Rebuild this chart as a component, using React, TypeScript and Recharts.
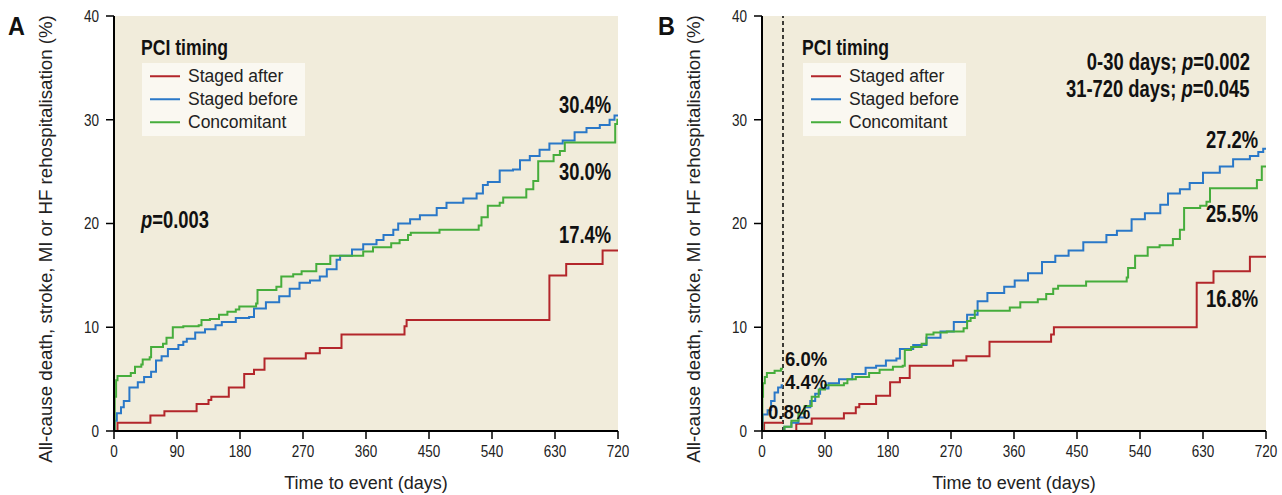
import React from 'react';
import { LineChart, Line, XAxis, YAxis, CartesianGrid, ReferenceLine } from 'recharts';

// axis ticks
const xTicks = [0, 90, 180, 270, 360, 450, 540, 630, 720];
const yTicks = [0, 10, 20, 30, 40];

// panel A, [day, cumulative %]
const aStagedAfter: [number, number][] = [
  [0, 0], [5, 0.8], [52, 1.5], [72, 1.9], [118, 2.6], [135, 3.0], [139, 3.3], [164, 4.2],
  [186, 5.5], [200, 5.9], [215, 7.0], [274, 7.5], [294, 8.0], [325, 9.3], [415, 10.1],
  [418, 10.7], [622, 15.0], [646, 16.1], [698, 17.4], [720, 17.4],
];
const aStagedBefore: [number, number][] = [
  [0, 0], [1, 1.0], [4, 1.7], [10, 2.3], [14, 2.9], [22, 4.2], [34, 4.7], [43, 5.2], [53, 5.7],
  [60, 6.8], [68, 7.2], [77, 7.9], [92, 8.3], [99, 8.6], [104, 8.9], [116, 9.5], [130, 9.8],
  [145, 10.2], [154, 10.5], [174, 10.9], [193, 11.0], [200, 11.8], [217, 12.4], [236, 13.0],
  [251, 13.7], [265, 14.3], [280, 14.5], [294, 14.9], [304, 15.6], [318, 16.5], [323, 16.9],
  [340, 17.5], [356, 18.0], [375, 18.4], [385, 18.9], [399, 19.4], [406, 20.0], [423, 20.4],
  [437, 20.8], [461, 21.5], [475, 22.0], [499, 22.4], [518, 22.9], [527, 23.7], [534, 24.0],
  [551, 25.1], [570, 25.2], [580, 26.1], [594, 26.5], [608, 27.1], [622, 27.7], [641, 28.0],
  [658, 28.8], [675, 29.2], [694, 29.5], [708, 30.0], [715, 30.4], [720, 30.4],
];
const aConcomitant: [number, number][] = [
  [0, 0], [1, 3.3], [3, 4.9], [5, 5.3], [24, 5.6], [30, 6.2], [39, 6.4], [41, 6.9], [51, 7.1],
  [53, 8.1], [70, 8.4], [75, 9.0], [84, 10.0], [99, 10.1], [121, 10.2], [125, 10.7], [137, 10.8],
  [150, 11.2], [162, 11.5], [174, 11.7], [179, 12.0], [203, 12.3], [205, 13.6], [232, 13.9],
  [239, 14.9], [256, 15.1], [268, 15.4], [289, 16.1], [309, 16.9], [356, 17.3], [370, 17.7],
  [396, 18.1], [408, 18.4], [420, 18.9], [424, 19.1], [465, 19.4], [521, 19.8], [525, 20.6],
  [534, 21.7], [551, 22.0], [556, 22.5], [589, 23.3], [599, 24.1], [606, 26.0], [628, 26.6],
  [637, 27.0], [644, 27.8], [716, 29.6], [719, 30.0], [720, 30.0],
];

// panel B, landmark 0-30 days
const bStagedAfterEarly: [number, number][] = [[0, 0], [3, 0.8], [30, 0.8]];
const bStagedBeforeEarly: [number, number][] = [
  [0, 0], [0.5, 1.0], [1, 1.6], [8, 2.0], [13, 2.9], [18, 3.7], [23, 4.2], [28, 4.4], [30, 4.4],
];
const bConcomitantEarly: [number, number][] = [
  [0, 0], [0.5, 3.3], [1.5, 4.6], [4, 5.2], [7, 5.6], [18, 5.8], [27, 6.0], [30, 6.0],
];

// panel B, landmark 31-720 days
const bStagedAfterLate: [number, number][] = [
  [30, 0], [49, 0.7], [71, 1.2], [117, 1.7], [134, 2.3], [139, 2.6], [163, 3.4], [183, 4.7],
  [197, 5.1], [211, 6.3], [273, 6.8], [292, 7.2], [325, 8.6], [413, 9.3], [417, 10.0],
  [621, 14.3], [645, 15.4], [697, 16.8], [720, 16.8],
];
const bStagedBeforeLate: [number, number][] = [
  [30, 0], [32, 0.4], [42, 0.8], [52, 1.3], [61, 2.3], [69, 2.9], [76, 3.6], [83, 4.1], [95, 4.6],
  [110, 5.0], [129, 5.5], [148, 6.1], [163, 6.3], [177, 6.8], [192, 7.0], [197, 7.9], [216, 8.3],
  [235, 9.0], [255, 9.6], [274, 10.5], [293, 11.2], [308, 12.5], [322, 13.3], [346, 13.9],
  [361, 14.5], [380, 15.2], [400, 16.3], [419, 16.9], [438, 17.4], [459, 18.2], [492, 18.9],
  [507, 19.3], [528, 20.4], [547, 21.0], [569, 21.8], [580, 22.9], [597, 23.3], [611, 23.9],
  [630, 24.9], [654, 25.5], [673, 26.2], [697, 26.5], [709, 26.9], [716, 27.2], [720, 27.2],
];
const bConcomitantLate: [number, number][] = [
  [30, 0], [32, 0.4], [42, 1.0], [52, 1.7], [61, 2.4], [71, 3.3], [81, 4.0], [90, 4.4], [117, 4.6],
  [122, 5.0], [134, 5.2], [153, 5.6], [168, 5.9], [187, 6.2], [201, 6.3], [204, 7.8], [213, 8.1],
  [228, 8.4], [235, 9.3], [245, 9.5], [264, 9.6], [288, 9.9], [293, 10.6], [298, 10.9],
  [304, 11.6], [354, 11.9], [369, 12.4], [394, 12.7], [406, 13.2], [416, 13.7], [423, 14.0],
  [463, 14.4], [521, 14.8], [523, 15.7], [533, 16.9], [551, 17.7], [568, 17.9], [587, 18.5],
  [597, 19.4], [603, 21.5], [626, 21.7], [635, 22.1], [640, 23.4], [707, 24.2], [714, 25.5],
  [720, 25.5],
];

const RED = '#b3262b';
const BLUE = '#2a78c8';
const GREEN = '#46ad3c';
const PLOT_BG = '#f1ecdb';
const SANS = '"Liberation Sans", Arial, sans-serif';
const SQUEEZE = 0.8; // the figure uses a condensed face

const legendItems = [
  { name: 'Staged after', color: RED },
  { name: 'Staged before', color: BLUE },
  { name: 'Concomitant', color: GREEN },
];

const toRows = (pts: [number, number][]) => pts.map(([day, pct]) => ({ day, pct }));

function XTick({ x, y, payload }: any) {
  return (
    <g transform={`translate(${x},${y}) scale(0.82,1)`}>
      <text x={0} y={0} dy="0.71em" textAnchor="middle" fontFamily={SANS} fontSize={16.5} fill="#222">
        {payload.value}
      </text>
    </g>
  );
}

function YTick({ x, y, payload }: any) {
  return (
    <g transform={`translate(${x},${y}) scale(0.82,1)`}>
      <text x={0} y={0} dy="0.355em" textAnchor="end" fontFamily={SANS} fontSize={16.5} fill="#222">
        {payload.value}
      </text>
    </g>
  );
}

function YTitle({ px, py }: { px: number; py: number }) {
  return (
    <text
      x={px}
      y={py}
      transform={`rotate(-90 ${px} ${py})`}
      textAnchor="middle"
      dominantBaseline="central"
      fontFamily={SANS}
      fontSize={18.7}
      fill="#222"
    >
      All-cause death, stroke, MI or HF rehospitalisation (%)
    </text>
  );
}

function Bold({ children, style, squeeze = SQUEEZE }: { children: React.ReactNode; style: React.CSSProperties; squeeze?: number }) {
  const fromRight = style.right !== undefined;
  return (
    <div
      style={{
        position: 'absolute',
        fontFamily: SANS,
        fontWeight: 700,
        fontSize: 23,
        lineHeight: '15px',
        color: '#111',
        whiteSpace: 'nowrap',
        transform: `translateY(-50%) scaleX(${squeeze})`,
        transformOrigin: fromRight ? 'right center' : 'left center',
        ...style,
      }}
    >
      {children}
    </div>
  );
}

function Legend({ left }: { left: number }) {
  return (
    <>
      <Bold style={{ left: left - 1, top: 47, fontSize: 22 }}>PCI timing</Bold>
      <div
        style={{
          position: 'absolute',
          left,
          top: 63,
          width: 163,
          height: 73,
          background: '#faf8f1',
        }}
      >
        {legendItems.map((it, i) => (
          <div
            key={it.name}
            style={{ position: 'absolute', left: 0, top: 13.5 + i * 23, transform: 'translateY(-50%)', display: 'flex', alignItems: 'center' }}
          >
            <div style={{ width: 30, height: 2, background: it.color, marginLeft: 8, marginRight: 8 }} />
            <span style={{ fontFamily: SANS, fontSize: 17.5, color: '#222', lineHeight: 1 }}>{it.name}</span>
          </div>
        ))}
      </div>
    </>
  );
}

type Series = { pts: [number, number][]; color: string };

function Panel({
  yWidth,
  right,
  titleX,
  series,
  landmark,
}: {
  yWidth: number;
  right: number;
  titleX: number;
  series: Series[];
  landmark?: boolean;
}) {
  return (
    <LineChart width={641} height={495} margin={{ top: 16, right, bottom: 0, left: 0 }}>
      <CartesianGrid fill={PLOT_BG} horizontal={false} vertical={false} stroke="none" />
      <XAxis
        dataKey="day"
        type="number"
        domain={[0, 720]}
        ticks={xTicks}
        interval={0}
        allowDataOverflow
        height={64}
        tickSize={8}
        tickMargin={6}
        axisLine={{ stroke: '#000', strokeWidth: 2 }}
        tickLine={{ stroke: '#000', strokeWidth: 1.5 }}
        tick={<XTick />}
        label={{ value: 'Time to event (days)', position: 'insideBottom', offset: 6, fill: '#222', fontSize: 18, fontFamily: SANS }}
      />
      <YAxis
        type="number"
        domain={[0, 40]}
        ticks={yTicks}
        interval={0}
        width={yWidth}
        tickSize={8}
        tickMargin={7}
        axisLine={{ stroke: '#000', strokeWidth: 2 }}
        tickLine={{ stroke: '#000', strokeWidth: 1.5 }}
        tick={<YTick />}
        label={<YTitle px={titleX} py={239} />}
      />
      {landmark && (
        <ReferenceLine x={30} stroke="#000" strokeWidth={1.5} strokeDasharray="4 3" />
      )}
      {series.map((s, i) => (
        <Line
          key={i}
          data={toRows(s.pts)}
          dataKey="pct"
          type="stepAfter"
          stroke={s.color}
          strokeWidth={2}
          dot={false}
          activeDot={false}
          isAnimationActive={false}
        />
      ))}
    </LineChart>
  );
}

export default function App() {
  return (
    <div style={{ position: 'absolute', left: 0, top: 0, width: 1282, height: 495, background: '#fff' }}>
      <div style={{ position: 'absolute', left: 0, top: 0, width: 641, height: 495 }}>
        <Panel
          yWidth={114}
          right={23}
          titleX={45}
          series={[
            { pts: aStagedAfter, color: RED },
            { pts: aStagedBefore, color: BLUE },
            { pts: aConcomitant, color: GREEN },
          ]}
        />
        <Bold style={{ left: 8, top: 26, fontSize: 26 }} squeeze={0.9}>A</Bold>
        <Legend left={142} />
        <Bold style={{ left: 141, top: 220 }}>
          <i>p</i>=0.003
        </Bold>
        <Bold style={{ right: 30, top: 105 }}>30.4%</Bold>
        <Bold style={{ right: 30, top: 172 }}>30.0%</Bold>
        <Bold style={{ right: 30, top: 235 }}>17.4%</Bold>
      </div>
      <div style={{ position: 'absolute', left: 641, top: 0, width: 641, height: 495 }}>
        <Panel
          yWidth={121}
          right={16}
          titleX={52}
          landmark
          series={[
            { pts: bStagedAfterEarly, color: RED },
            { pts: bStagedBeforeEarly, color: BLUE },
            { pts: bConcomitantEarly, color: GREEN },
            { pts: bStagedAfterLate, color: RED },
            { pts: bStagedBeforeLate, color: BLUE },
            { pts: bConcomitantLate, color: GREEN },
          ]}
        />
        <Bold style={{ left: 17, top: 26, fontSize: 26 }} squeeze={0.9}>B</Bold>
        <Legend left={162} />
        <Bold style={{ right: 32, top: 62 }}>
          0-30 days; <i>p</i>=0.002
        </Bold>
        <Bold style={{ right: 32, top: 89 }}>
          31-720 days; <i>p</i>=0.045
        </Bold>
        <Bold style={{ right: 24, top: 140 }}>27.2%</Bold>
        <Bold style={{ right: 24, top: 214 }}>25.5%</Bold>
        <Bold style={{ right: 24, top: 299 }}>16.8%</Bold>
        <Bold style={{ left: 144, top: 359, fontSize: 19.5 }} squeeze={0.95}>6.0%</Bold>
        <Bold style={{ left: 144, top: 382, fontSize: 19.5 }} squeeze={0.95}>4.4%</Bold>
        <Bold style={{ left: 127, top: 412, fontSize: 19.5 }} squeeze={0.95}>0.8%</Bold>
      </div>
    </div>
  );
}
